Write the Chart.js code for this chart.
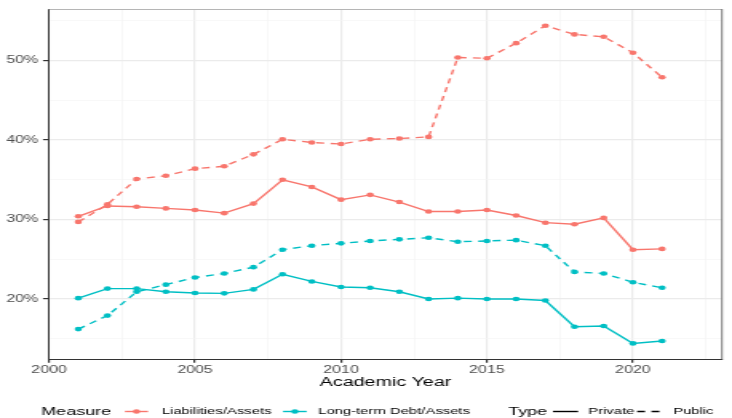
<!DOCTYPE html>
<html lang="en">
<head>
  <meta charset="UTF-8">
  <title>Liabilities and Long-term Debt over Assets</title>
  <script src="https://cdn.jsdelivr.net/npm/chart.js"></script>
  <style>
    body { margin: 0; background: #fff; }
  </style>
</head>
<body>
  <!-- the reference is stretched sideways, so draw narrow and widen with css -->
  <canvas id="chart" width="458" height="418" style="display:block;width:732px;height:418px"></canvas>

  <script>
    const years = [2001, 2002, 2003, 2004, 2005, 2006, 2007, 2008, 2009, 2010, 2011,
                   2012, 2013, 2014, 2015, 2016, 2017, 2018, 2019, 2020, 2021];

    // values in percent
    const liabPrivate = [30.4, 31.7, 31.6, 31.4, 31.2, 30.8, 32.0, 35.0, 34.1, 32.5, 33.1,
                         32.2, 31.0, 31.0, 31.2, 30.5, 29.6, 29.4, 30.2, 26.2, 26.3];
    const liabPublic = [29.7, 31.9, 35.1, 35.5, 36.4, 36.7, 38.2, 40.1, 39.7, 39.5, 40.1,
                        40.2, 40.4, 50.4, 50.3, 52.2, 54.4, 53.3, 53.0, 51.0, 47.9];
    const debtPrivate = [20.1, 21.3, 21.3, 20.9, 20.75, 20.7, 21.2, 23.1, 22.2, 21.5, 21.4,
                         20.9, 20.0, 20.1, 20.0, 20.0, 19.8, 16.5, 16.6, 14.4, 14.7];
    const debtPublic = [16.2, 17.9, 20.9, 21.8, 22.7, 23.2, 24.0, 26.2, 26.7, 27.0, 27.3,
                        27.5, 27.7, 27.2, 27.3, 27.4, 26.7, 23.4, 23.2, 22.1, 21.4];

    const xGrid = [2000, 2002.5, 2005, 2007.5, 2010, 2012.5, 2015, 2017.5, 2020, 2022.5];
    const xLabels = [2000, 2005, 2010, 2015, 2020];
    const yGrid = [15, 20, 25, 30, 35, 40, 45, 50, 55];
    const yLabels = [20, 30, 40, 50];

    const RED = '#F8766D';
    const TEAL = '#00BFC4';
    const FONT = '"Liberation Sans", Arial, sans-serif';

    function series(vals, color, dashed) {
      return {
        data: years.map((yr, i) => ({x: yr, y: vals[i]})),
        borderColor: color,
        backgroundColor: color,
        borderWidth: 1.4,
        borderDash: dashed ? [5, 4] : [],
        pointRadius: 2.3,
        pointBorderWidth: 0,
        pointHoverRadius: 2.3,
        tension: 0,
        fill: false
      };
    }

    const majorGrid = ctx => (ctx.tick && ctx.tick.major) ? '#ebebeb' : '#f4f4f4';
    const majorWidth = ctx => (ctx.tick && ctx.tick.major) ? 1.2 : 0.6;
    const majorTick = ctx => (ctx.tick && ctx.tick.major) ? '#333333' : 'rgba(0,0,0,0)';

    // panel border (top, right) and the ggplot style legend row
    const extras = {
      id: 'extras',
      afterDraw(chart) {
        const ctx = chart.ctx;
        const a = chart.chartArea;
        ctx.save();
        ctx.lineWidth = 1;
        ctx.strokeStyle = '#b5b5b5';
        ctx.beginPath();
        ctx.moveTo(a.left, a.top + 0.5);
        ctx.lineTo(a.right, a.top + 0.5);
        ctx.stroke();
        ctx.strokeStyle = '#777777';
        ctx.beginPath();
        ctx.moveTo(a.right, a.top);
        ctx.lineTo(a.right, a.bottom);
        ctx.stroke();

        const y = 411.5;
        ctx.textBaseline = 'middle';
        ctx.textAlign = 'left';
        ctx.fillStyle = '#000';
        ctx.font = '11.3px ' + FONT;
        ctx.fillText('Measure', 25.7, y);
        ctx.fillText('Type', 317.9, y);

        ctx.font = '9.3px ' + FONT;
        ctx.fillText('Liabilities/Assets', 101.2, y);
        ctx.fillText('Long-term Debt/Assets', 199, y);
        ctx.fillText('Private', 368, y);
        ctx.fillText('Public', 421.2, y);

        const key = (x0, x1, color, dash, dot) => {
          ctx.strokeStyle = color;
          ctx.lineWidth = 1.4;
          ctx.setLineDash(dash);
          ctx.beginPath();
          ctx.moveTo(x0, y);
          ctx.lineTo(x1, y);
          ctx.stroke();
          ctx.setLineDash([]);
          if (dot) {
            ctx.fillStyle = color;
            ctx.beginPath();
            ctx.arc((x0 + x1) / 2, y, 2.3, 0, Math.PI * 2);
            ctx.fill();
          }
        };
        key(78.2, 92.6, RED, [], true);
        key(177.1, 191.9, TEAL, [], true);
        key(346, 361.7, '#000', [], false);
        key(398.6, 414.3, '#000', [5, 4], false);
        ctx.restore();
      }
    };

    new Chart(document.getElementById('chart'), {
      type: 'line',
      data: {
        datasets: [
          series(liabPrivate, RED, false),
          series(liabPublic, RED, true),
          series(debtPrivate, TEAL, false),
          series(debtPublic, TEAL, true)
        ]
      },
      options: {
        responsive: false,
        animation: false,
        devicePixelRatio: 1,
        events: [],
        layout: { padding: { left: 0, top: 6, right: 6.3, bottom: 26.7 } },
        plugins: {
          legend: { display: false },
          tooltip: { enabled: false }
        },
        scales: {
          x: {
            type: 'linear',
            min: 2000,
            max: 2023.05,
            afterBuildTicks: s => {
              s.ticks = xGrid.map(v => ({value: v, major: xLabels.includes(v)}));
            },
            afterFit: s => { s.height = 32; },
            grid: { color: majorGrid, lineWidth: majorWidth, tickColor: majorTick, tickLength: 3.5 },
            border: { display: true, color: '#333333', width: 1 },
            ticks: {
              autoSkip: false,
              maxRotation: 0,
              padding: 1.5,
              color: '#4d4d4d',
              font: { family: FONT, size: 10 },
              callback: v => xLabels.includes(v) ? String(v) : ''
            },
            title: {
              display: true,
              text: 'Academic Year',
              color: '#000',
              font: { family: FONT, size: 12.3 },
              padding: { top: 0, bottom: 1.6 }
            }
          },
          y: {
            type: 'linear',
            min: 12.4,
            max: 56.5,
            afterBuildTicks: s => {
              s.ticks = yGrid.map(v => ({value: v, major: yLabels.includes(v)}));
            },
            afterFit: s => { s.width = 30.7; },
            grid: { color: majorGrid, lineWidth: majorWidth, tickColor: majorTick, tickLength: 3.8 },
            border: { display: true, color: '#333333', width: 1 },
            ticks: {
              autoSkip: false,
              padding: 3,
              color: '#4d4d4d',
              font: { family: FONT, size: 10 },
              callback: v => yLabels.includes(v) ? v + '%' : ''
            }
          }
        }
      },
      plugins: [extras]
    });
  </script>
</body>
</html>
